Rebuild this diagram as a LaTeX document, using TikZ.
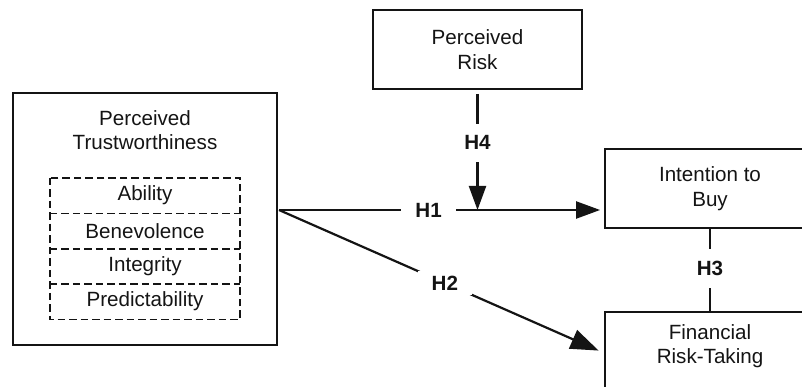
\documentclass[tikz,border=0pt]{standalone}
\usepackage{fontspec}
\setmainfont{Liberation Sans}
\usetikzlibrary{arrows.meta,calc}
\begin{document}
\begin{tikzpicture}[x=1pt,y=-1pt,
  every node/.style={font=\fontsize{20.6}{24.5}\selectfont, text=black!92},
  box/.style={draw=black!92, line width=1.8pt, align=center, inner sep=0pt},
  dbox/.style={minimum width=190pt, minimum height=35.3pt, inner sep=0pt},
  dline/.style={draw=black!92, line width=1.6pt, dash pattern=on 7.5pt off 4pt},
  conn/.style={draw=black!92, line width=2.2pt},
  arr/.style={conn, -{Triangle[length=24pt,width=17pt]}},
  hlab/.style={font=\fontsize{20.6}{24.5}\selectfont\bfseries, fill=white, inner xsep=14pt, inner ysep=12pt}
]
\useasboundingbox (0,0) rectangle (802,387);
\clip (0,0) rectangle (802,387);
% left construct
\node[box, minimum width=264pt, minimum height=252pt] (pt) at (145,219) {};
\node[align=center] (ptt) at (145,130) {Perceived\\Trustworthiness};
\node[dbox] (ab) at (145,195.6) {Ability};
\node[dbox] (be) at (145,230.9) {Benevolence};
\node[dbox] (ig) at (145,266.2) {Integrity};
\node[dbox] (pd) at (145,301.5) {Predictability};
\draw[dline] (ab.north west) rectangle (pd.south east);
\draw[dline] (ab.south west) -- (ab.south east);
\draw[dline] (be.south west) -- (be.south east);
\draw[dline] (ig.south west) -- (ig.south east);
% other constructs
\node[box, minimum width=209pt, minimum height=79pt] (risk) at (477.5,49.5) {Perceived\\Risk};
\node[box, minimum width=210pt, minimum height=79pt] (itb) at (710,188.5) {Intention to\\Buy};
\node[box, minimum width=210pt, minimum height=90pt, anchor=north] (frt) at (710,311) {};
\node[align=center] (frtt) at (710,346) {Financial\\Risk-Taking};
% connectors
\coordinate (src) at (279,210);
\coordinate (h1end) at (itb.west |- src);
\coordinate (h4end) at (risk.south |- src);
\coordinate (h2end) at (frt.west |- 0,353);
\draw[arr, shorten >=4pt] (src) -- node[hlab, pos=0.46] {H1} (h1end);
\draw[arr, shorten <=4pt] (risk.south) -- node[hlab, pos=0.44] {H4} (h4end);
\draw[conn, -{Triangle[length=28pt,width=20pt]}, shorten >=6pt] (src) -- node[hlab, pos=0.51, inner ysep=5pt] {H2} (h2end);
\draw[conn] (itb.south) -- node[hlab, pos=0.48] {H3} (frt.north);
\end{tikzpicture}
\end{document}
